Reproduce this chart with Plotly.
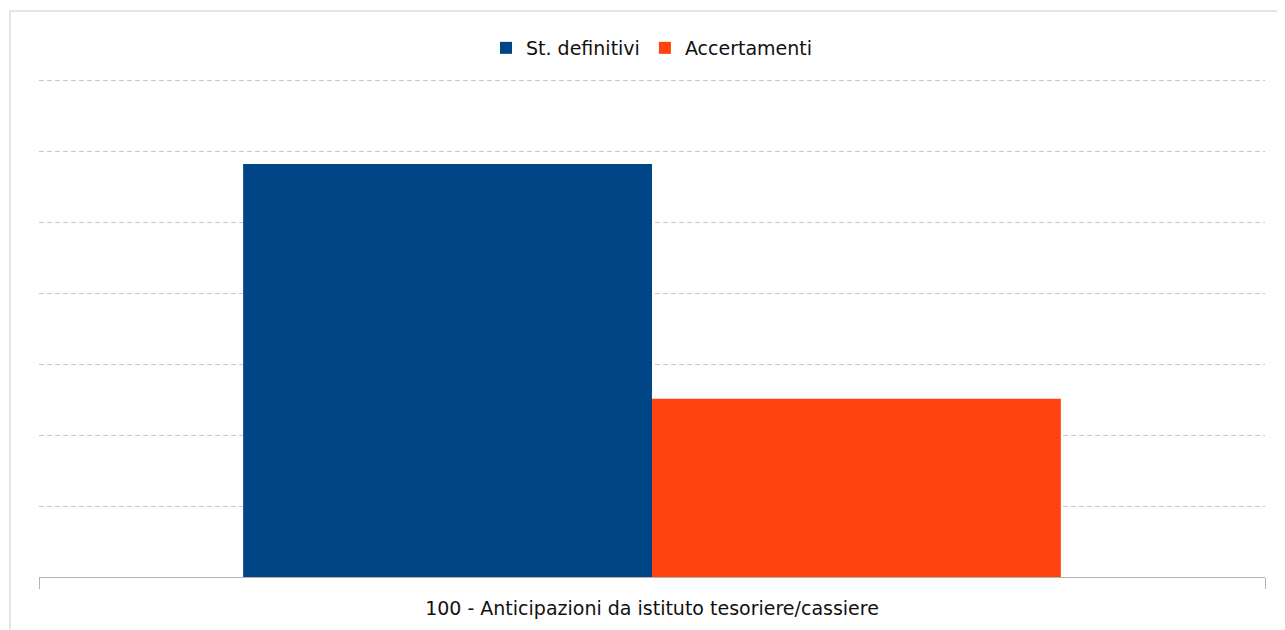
import plotly.graph_objects as go

categories = ["100 - Anticipazioni da istituto tesoriere/cassiere"]
series_names = ["St. definitivi", "Accertamenti"]
st_definitivi = [5.82]
accertamenti = [2.51]
colors = ["#004586", "#ff420e"]

OFF = 8  # default body margin of the written page
W, H = 1285 - OFF, 630 - OFF
YMAX = 7.03
L = 39 - OFF
R = W - (1265 - OFF)
B = H - (577 - OFF)
T = round(577 - 71 * YMAX) - OFF
pw, ph = W - L - R, H - T - B

fig = go.Figure()
for name, vals, col in zip(series_names, [st_definitivi, accertamenti], colors):
    fig.add_trace(go.Bar(x=categories, y=vals, name=name, marker=dict(color=col, line=dict(width=0))))

font = dict(family="DejaVu Sans", size=19, color="#111111")
fig.update_layout(
    width=W, height=H,
    margin=dict(l=L, r=R, t=T, b=B),
    paper_bgcolor="white", plot_bgcolor="white",
    barmode="group", bargap=0.333, bargroupgap=0,
    font=font,
    showlegend=True,
    legend=dict(orientation="h", x=0.5, xanchor="center", y=((577 - 48)) / ph, yanchor="middle",
                font=font, itemwidth=30, traceorder="normal"),
    xaxis=dict(type="category", showgrid=False, showline=True, linecolor="#b3b3b3", linewidth=1,
               ticks="outside", tickson="boundaries", ticklen=11, tickcolor="#b3b3b3",
               tickfont=font, ticklabelstandoff=14, fixedrange=True),
    yaxis=dict(range=[0, YMAX], dtick=1, showticklabels=False, showgrid=True, gridcolor="#c8c8c8",
               griddash="5px,3px", gridwidth=1, zeroline=False, showline=False, fixedrange=True),
    shapes=[dict(type="rect", xref="paper", yref="paper",
                 x0=(10 - 39) / pw, x1=(1285 + 20 - 39) / pw,
                 y0=(577 - 650) / ph, y1=(577 - 11) / ph,
                 line=dict(color="#dddddd", width=1.5), fillcolor="rgba(0,0,0,0)", layer="below")],
)
fig.write_html("out.html")
